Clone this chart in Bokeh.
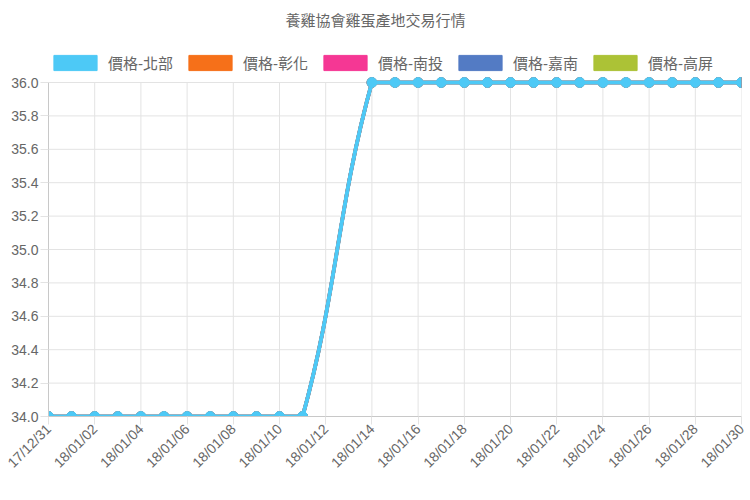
import math
from bokeh.plotting import figure
from bokeh.models import Legend, LegendItem, FixedTicker, ColumnDataSource, Label
from bokeh.embed import file_html
from bokeh.resources import INLINE

title = "養雞協會雞蛋產地交易行情"
dates = ["17/12/31"] + ["18/01/%02d" % d for d in range(1, 31)]
nan = float("nan")
price = [34, 34, 34, 34, 34, 34, 34, 34, 34, 34, 34, 34, nan, nan,
         36, 36, 36, 36, 36, 36, 36, 36, 36, 36, 36, 36, 36, 36, 36, 36, 36]
series_names = ["價格-北部", "價格-彰化", "價格-南投", "價格-嘉南", "價格-高屏"]
series_values = [price, price, price, price, price]
colors = ["#4dc9f6", "#f67019", "#f53794", "#537bc4", "#acc236"]
y_ticks = [34.0, 34.2, 34.4, 34.6, 34.8, 35.0, 35.2, 35.4, 35.6, 35.8, 36.0]

FONT = "'Liberation Sans', 'Noto Sans CJK TC', sans-serif"
W, H = 750, 500
ML, MR, MB = 48, 9, 84
AREA_TOP = 82            # pixel where the value axis ends (top of plot area)
FW, FH = W - ML - MR, H - MB  # frame spans the whole height above the x axis

n = len(dates)
ymin, ymax = min(y_ticks), max(y_ticks)
sy = (FH - AREA_TOP) / (ymax - ymin)
sx = FW / (n - 1)
ytop = ymax + AREA_TOP / sy

p = figure(width=W, height=H, output_backend="svg", toolbar_location=None, title=None,
           x_range=(0, n - 1), y_range=(ymin, ytop),
           min_border_left=ML, min_border_right=MR, min_border_top=0, min_border_bottom=MB)
p.outline_line_color = None
p.background_fill_color = "white"
p.xgrid.visible = False
p.ygrid.visible = False

# grid lines limited to the plot area
xt = list(range(0, n, 2))
GRID = "#e3e3e3"
p.segment(x0=xt, x1=xt, y0=[ymin] * len(xt), y1=[ymax] * len(xt),
          line_color=GRID, line_width=1, level="underlay")
p.segment(x0=[0] * len(y_ticks), x1=[n - 1] * len(y_ticks), y0=y_ticks, y1=y_ticks,
          line_color=GRID, line_width=1, level="underlay")


def segments(vals):
    runs, cur = [], []
    for i, v in enumerate(vals):
        if math.isnan(v):
            if cur:
                runs.append(cur)
            cur = []
        else:
            cur.append(i)
    if cur:
        runs.append(cur)
    return runs


def draw_series(vals, color, lw):
    idx = [i for i, v in enumerate(vals) if not math.isnan(v)]
    runs = segments(vals)
    for r in runs:
        p.line(list(r), [vals[i] for i in r], line_color=color, line_width=lw)
    t = 0.4
    for a, b in zip(runs[:-1], runs[1:]):
        i1, i2 = a[-1], b[0]
        i0 = a[-2] if len(a) > 1 else i1
        i3 = b[1] if len(b) > 1 else i2
        P = lambda i: (i * sx, vals[i] * sy)
        p0, p1, p2, p3 = P(i0), P(i1), P(i2), P(i3)
        d01 = math.dist(p0, p1); d12 = math.dist(p1, p2); d23 = math.dist(p2, p3)
        fb1 = t * d12 / (d01 + d12)
        fa2 = t * d12 / (d12 + d23)
        c1 = (p1[0] + fb1 * (p2[0] - p0[0]), p1[1] + fb1 * (p2[1] - p0[1]))
        c2 = (p2[0] - fa2 * (p3[0] - p1[0]), p2[1] - fa2 * (p3[1] - p1[1]))
        p.bezier(x0=[i1], y0=[vals[i1]], x1=[i2], y1=[vals[i2]],
                 cx0=[c1[0] / sx], cy0=[c1[1] / sy], cx1=[c2[0] / sx], cy1=[c2[1] / sy],
                 line_color=color, line_width=lw)
    p.scatter(idx, [vals[i] for i in idx], size=lw + 6, fill_color=color,
              line_color=color, line_width=1)


series = list(zip(series_values, colors))
for k, (vals, color) in reversed(list(enumerate(series))):
    draw_series(vals, color, 4 if k == 0 else 3.6)

# legend
items = []
for name, color in zip(series_names, colors):
    src = ColumnDataSource(dict(l=[-10.0], r=[-9.0], b=[0.0], t=[1.0]))
    rr = p.quad(left="l", right="r", bottom="b", top="t", source=src,
                fill_color=color, line_color=color, line_width=1)
    items.append(LegendItem(label=name, renderers=[rr]))
legend = Legend(items=items, orientation="horizontal", location=(0, FH - 73),
                glyph_width=54, glyph_height=19, label_height=19, label_standoff=6, spacing=10,
                padding=0, margin=0, border_line_color=None, background_fill_alpha=0,
                label_text_font=FONT, label_text_font_size="15px", label_text_color="#666666")
p.add_layout(legend, "center")

# title
p.add_layout(Label(x=(375 - ML) / sx, y=ymax + (AREA_TOP - 20) / sy, text=title,
                   text_align="center", text_baseline="middle", text_font=FONT,
                   text_font_size="15px", text_color="#666666"))

p.xaxis.ticker = FixedTicker(ticks=xt)
p.xaxis.major_label_overrides = {i: dates[i] for i in range(n)}
p.xaxis.major_label_orientation = math.pi / 4
p.yaxis.ticker = FixedTicker(ticks=y_ticks)
p.yaxis.major_label_overrides = {v: "%.1f" % v for v in y_ticks}
p.yaxis.bounds = (ymin, ymax)
for ax in (p.xaxis, p.yaxis):
    ax.axis_line_color = "#c8c8c8"
    ax.major_tick_line_color = GRID
    ax.major_tick_out = 8
    ax.major_tick_in = 0
    ax.minor_tick_line_color = None
    ax.major_label_text_font = FONT
    ax.major_label_text_font_size = "14px"
    ax.major_label_text_color = "#666666"
    ax.major_label_standoff = 2

open("out.html", "w").write(file_html(p, INLINE))
